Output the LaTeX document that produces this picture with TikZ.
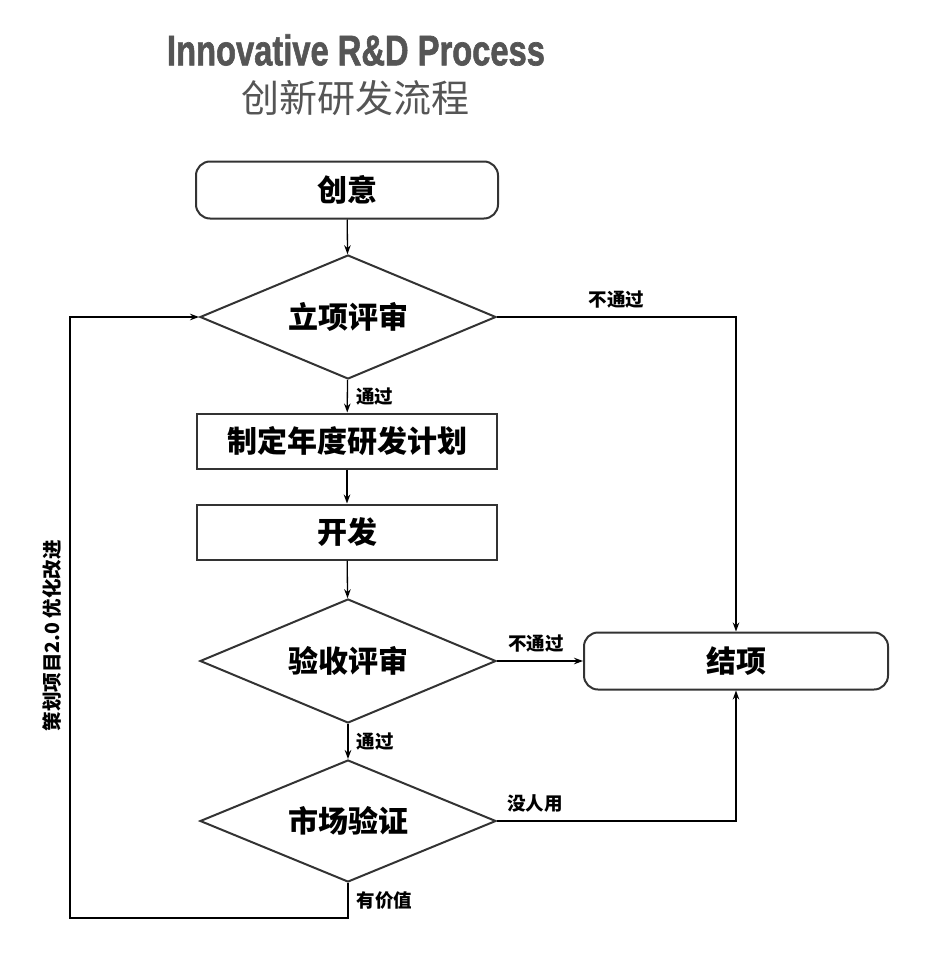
\documentclass[tikz,border=0pt]{standalone}
\usepackage{fontspec}
\setmainfont{Liberation Sans}
\newfontfamily\cjk{Noto Sans CJK SC}
\newfontfamily\headfont{Liberation Sans Bold}[FakeBold=1.6]
\usetikzlibrary{shapes.geometric,arrows.meta}

\definecolor{titlegray}{HTML}{555555}
\definecolor{boxgray}{HTML}{333333}

\begin{document}
\begin{tikzpicture}[x=1pt, y=-1pt,
	terminal/.style={draw=boxgray, line width=2pt, rounded corners=14pt, minimum width=302pt, minimum height=57pt, font=\cjk\bfseries\fontsize{30}{30}\selectfont},
	process/.style={draw=boxgray, line width=2pt, minimum width=300pt, minimum height=55pt, font=\cjk\bfseries\fontsize{30}{30}\selectfont},
	decision/.style={diamond, shape aspect=2.4, draw=boxgray, line width=2pt, inner sep=0pt, minimum width=296pt, minimum height=124pt, font=\cjk\bfseries\fontsize{30}{30}\selectfont},
	lbl/.style={font=\cjk\bfseries\fontsize{18.5}{18.5}\selectfont, inner sep=8pt},
	link/.style={line width=1.3pt, -{Stealth[length=9pt, angle'=40]}}]
	\useasboundingbox (0,0) rectangle (926,958);
	\node[text=titlegray] (title) at (356,50) {\resizebox{378pt}{31pt}{\headfont Innovative R\&D Process}};
	\node[font=\cjk\fontsize{38}{38}\selectfont, text=titlegray] (subtitle) at (355,98) {创新研发流程};
	\node[terminal] (idea) at (347,190) {创意};
	\node[decision] (review) at (348,317) {立项评审};
	\node[process] (plan) at (347,441) {制定年度研发计划};
	\node[process] (dev) at (347,532) {开发};
	\node[decision] (check) at (348,661) {验收评审};
	\node[decision, minimum height=122pt] (market) at (348,821) {市场验证};
	\node[terminal, minimum width=304pt] (close) at (736,661) {结项};
	\coordinate (corner) at (70,918);
	% main flow
	\draw[link] (idea) -- (review);
	\draw[link] (review) -- node[lbl, right]{通过} (plan);
	\draw[link] (plan) -- (dev);
	\draw[link] (dev) -- (check);
	\draw[link] (check) -- node[lbl, right]{通过} (market);
	% to the end
	\draw[link] (review.east) -| node[lbl, above, pos=0.25]{不通过} (close.north);
	\draw[link] (check.east) -- node[lbl, above, xshift=-4pt]{不通过} (close.west);
	\draw[link] (market.east) -| node[lbl, above, pos=0.08]{没人用} (close.south);
	% back to review
	\draw[link] (market.south) |- node[lbl, right, pos=0.25]{有价值} (corner)
	|- node[lbl, rotate=90, anchor=south, pos=0.235, font=\cjk\bfseries\fontsize{19.5}{19.5}\selectfont]{策划项目2.0 优化改进} (review.west);
\end{tikzpicture}
\end{document}
